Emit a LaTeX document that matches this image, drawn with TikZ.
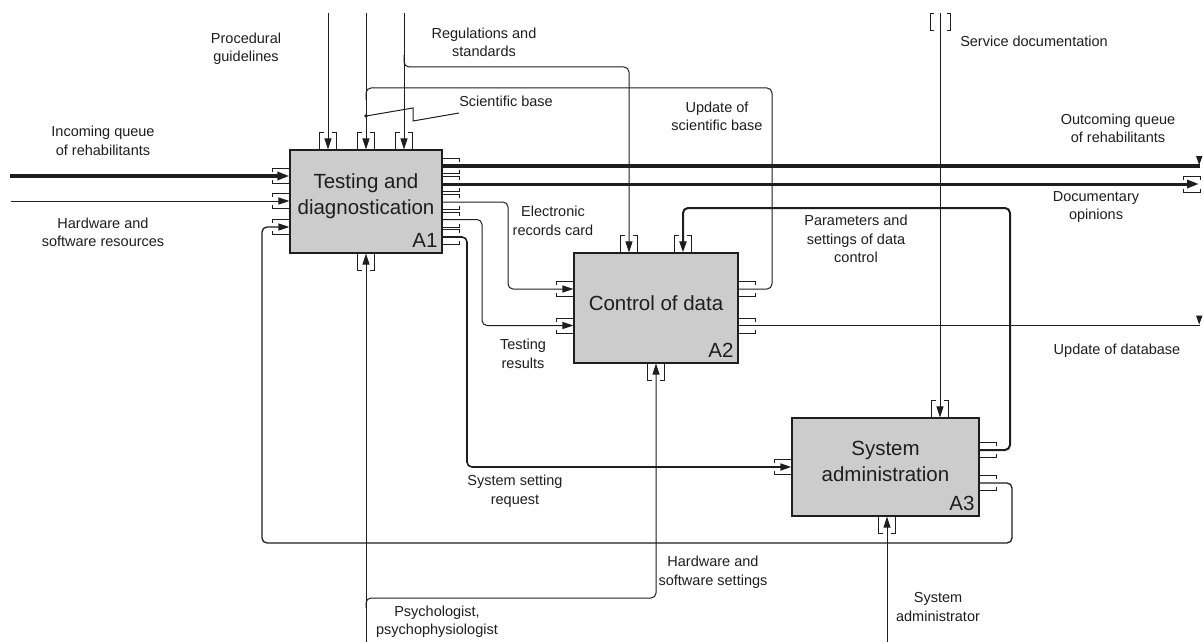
\documentclass[tikz,border=0pt]{standalone}
\usepackage{fontspec}
\setmainfont{Liberation Sans}
\usetikzlibrary{arrows.meta,calc}
\definecolor{boxgray}{RGB}{204,204,204}
\definecolor{ink}{RGB}{30,30,30}
\tikzset{
  ln/.style={draw=ink, line width=1pt},
  tip/.style={-{Triangle[length=11pt,width=7pt]}},
  box/.style={draw=ink, line width=1.3pt, fill=boxgray, inner sep=0pt},
  boxtxt/.style={font=\fontsize{20.5}{26}\selectfont, align=center, text=ink, inner sep=0pt},
  boxnum/.style={font=\fontsize{20.5}{24}\selectfont, text=ink, inner sep=0pt, anchor=south east},
  lbl/.style={font=\fontsize{14.5}{18.5}\selectfont, align=center, text=ink, inner sep=0pt},
  brk/.style={draw=ink, line width=0.9pt},
  % tunnel brackets at the four sides of a box
  tin/.pic={\draw[brk] (-17,-4)--(-17,-7.5)--(0,-7.5) (-17,4)--(-17,7.5)--(0,7.5);},
  tout/.pic={\draw[brk] (17,-4)--(17,-7.5)--(0,-7.5) (17,4)--(17,7.5)--(0,7.5);},
  ttop/.pic={\draw[brk] (-4,-17)--(-8.5,-17)--(-8.5,0) (4,-17)--(8.5,-17)--(8.5,0);},
  tbot/.pic={\draw[brk] (-4,17)--(-8.5,17)--(-8.5,0) (4,17)--(8.5,17)--(8.5,0);},
  edgemark/.pic={\fill[ink] (-4,-10)--(2.5,-10)--(-0.8,-1)--cycle;},
}
\begin{document}
\begin{tikzpicture}[x=1pt,y=-1pt]
\useasboundingbox (0,0) rectangle (1203,642);
\fill[white] (0,0) rectangle (1203,642);

% activity boxes
\node[box, minimum width=152pt, minimum height=103pt] (A1) at (366,201.5) {};
\node[box, minimum width=164pt, minimum height=110pt] (A2) at (656,308) {};
\node[box, minimum width=187pt, minimum height=98pt] (A3) at (885.5,467) {};
\node[boxtxt] (A1t) at (366,196) {Testing and\\diagnostication};
\node[boxtxt] (A2t) at (656,303) {Control of data};
\node[boxtxt] (A3t) at (885.5,461.5) {System\\administration};
\node[boxnum] (A1n) at ($(A1.south east)+(-5,-6)$) {A1};
\node[boxnum] (A2n) at ($(A2.south east)+(-5,-6)$) {A2};
\node[boxnum] (A3n) at ($(A3.south east)+(-5,-6)$) {A3};

% free ends at the border
\coordinate (inQ) at (10,176);
\coordinate (hwIn) at (11,201);
\coordinate (proc) at (328,13);
\coordinate (sci) at (366,13);
\coordinate (regs) at (404,13);
\coordinate (serv) at (940,13);
\coordinate (outQ) at (1200,166);
\coordinate (docOut) at (1199,184);
\coordinate (dbOut) at (1200,325.5);
\coordinate (psy) at (366,642);
\coordinate (sysad) at (887,642);

% inputs of A1
\draw[ln, line width=4.5pt, -{Triangle[length=12pt,width=8pt]}] (inQ) -- (inQ -| A1.west);
\draw[ln, tip] (hwIn) -- (hwIn -| A1.west);
\pic at (inQ -| A1.west) {tin};
\pic at (hwIn -| A1.west) {tin};
\pic at (A1.west |- 0,227) {tin};

% controls of A1
\draw[ln, tip] (proc) -- (proc |- A1.north);
\draw[ln, tip] (sci) -- (sci |- A1.north);
\draw[ln, tip] (regs) -- (regs |- A1.north);
\pic at (proc |- A1.north) {ttop};
\pic at (sci |- A1.north) {ttop};
\pic at (regs |- A1.north) {ttop};

% regulations also control A2
\draw[ln, tip, rounded corners=5pt] (404,55) -- (404,67) -- (629,67) -- (A2.north -| 629,0);
\pic at (A2.north -| 629,0) {ttop};

% mechanism of A1 and A2
\draw[ln, tip] (psy) -- (psy |- A1.south);
\pic at (psy |- A1.south) {tbot};
\draw[ln, tip, rounded corners=5pt] (366,608) -- (366,598) -- (656,598) -- (A2.south -| 656,0);
\pic at (A2.south -| 656,0) {tbot};

% outputs of A1
\draw[ln, line width=4pt] (A1.east |- outQ) -- (outQ);
\pic at (outQ) {edgemark};
\draw[ln, line width=3pt, -{Triangle[length=12pt,width=8pt]}] (A1.east |- docOut) -- (docOut);
\draw[brk] (1183,179.5)--(1183,176)--(1200,176)--(1200,179.5)
           (1183,188.5)--(1183,192)--(1200,192)--(1200,188.5);
\draw[ln, tip, rounded corners=5pt] (A1.east |- 0,202) -- (508,202) -- (508,289) -- (A2.west |- 0,289);
\draw[ln, tip, rounded corners=5pt] (A1.east |- 0,219.5) -- (482,219.5) -- (482,325.5) -- (A2.west |- 0,325.5);
\draw[ln, line width=1.6pt, tip, rounded corners=5pt] (A1.east |- 0,237) -- (467,237) -- (467,467) -- (A3.west);
\foreach \yy in {166,184,202,219.5,237} \pic at (A1.east |- 0,\yy) {tout};
\pic at (A2.west |- 0,289) {tin};
\pic at (A2.west |- 0,325.5) {tin};
\pic at (A3.west) {tin};

% outputs of A2
\draw[ln, rounded corners=5pt] (A2.east |- 0,289) -- (772,289) -- (772,88) -- (366,88) -- (366,100);
\draw[ln] (A2.east |- dbOut) -- (dbOut);
\pic at (dbOut) {edgemark};
\pic at (A2.east |- 0,289) {tout};
\pic at (A2.east |- 0,325.5) {tout};

% control and mechanism of A3
\draw[ln, tip] (serv) -- (serv |- A3.north);
\pic at (serv |- A3.north) {ttop};
\draw[brk] (933.5,13)--(930,13)--(930,30)--(933.5,30)
           (946.5,13)--(950,13)--(950,30)--(946.5,30);
\draw[ln, tip] (sysad) -- (sysad |- A3.south);
\pic at (sysad |- A3.south) {tbot};

% outputs of A3 fed back
\draw[ln, line width=2pt, tip, rounded corners=5pt] (A3.east |- 0,450) -- (1010,450) -- (1010,208) -- (683,208) -- (A2.north -| 683,0);
\pic at (A2.north -| 683,0) {ttop};
\draw[ln, line width=1.3pt, tip, rounded corners=5pt] (A3.east |- 0,483) -- (1012,483) -- (1012,543) -- (262,543) -- (262,227) -- (A1.west |- 0,227);
\pic at (A3.east |- 0,450) {tout};
\pic at (A3.east |- 0,483) {tout};

% squiggle tying the label to the scientific base arrow
\fill[ink] (366,116) circle (1.8);
\draw[ln] (366,116) -- (413,108) -- (413,121) -- (459,113);

% arrow labels
\node[lbl] (lProc) at (246,49) {Procedural\\guidelines};
\node[lbl] (lRegs) at (484,42.5) {Regulations and\\standards};
\node[lbl] (lSci) at (506,101) {Scientific base};
\node[lbl] (lUsb) at (717,116.5) {Update of\\scientific base};
\node[lbl] (lServ) at (1034,41) {Service documentation};
\node[lbl] (lInQ) at (103,141) {Incoming queue\\of rehabilitants};
\node[lbl] (lHw) at (103,232.5) {Hardware and\\software resources};
\node[lbl] (lOutQ) at (1118,128.5) {Outcoming queue\\of rehabilitants};
\node[lbl] (lDoc) at (1096,207) {Documentary\\opinions};
\node[lbl] (lDb) at (1117,351) {Update of database};
\node[lbl] (lErc) at (553,221) {Electronic\\records card};
\node[lbl] (lTr) at (523,354) {Testing\\results};
\node[lbl] (lPar) at (856,239) {Parameters and\\settings of data\\control};
\node[lbl] (lSsr) at (515,491) {System setting\\request};
\node[lbl] (lHss) at (713,572) {Hardware and\\software settings};
\node[lbl] (lPsy) at (437,621.5) {Psychologist,\\psychophysiologist};
\node[lbl] (lSys) at (938,607) {System\\administrator};
\end{tikzpicture}
\end{document}
